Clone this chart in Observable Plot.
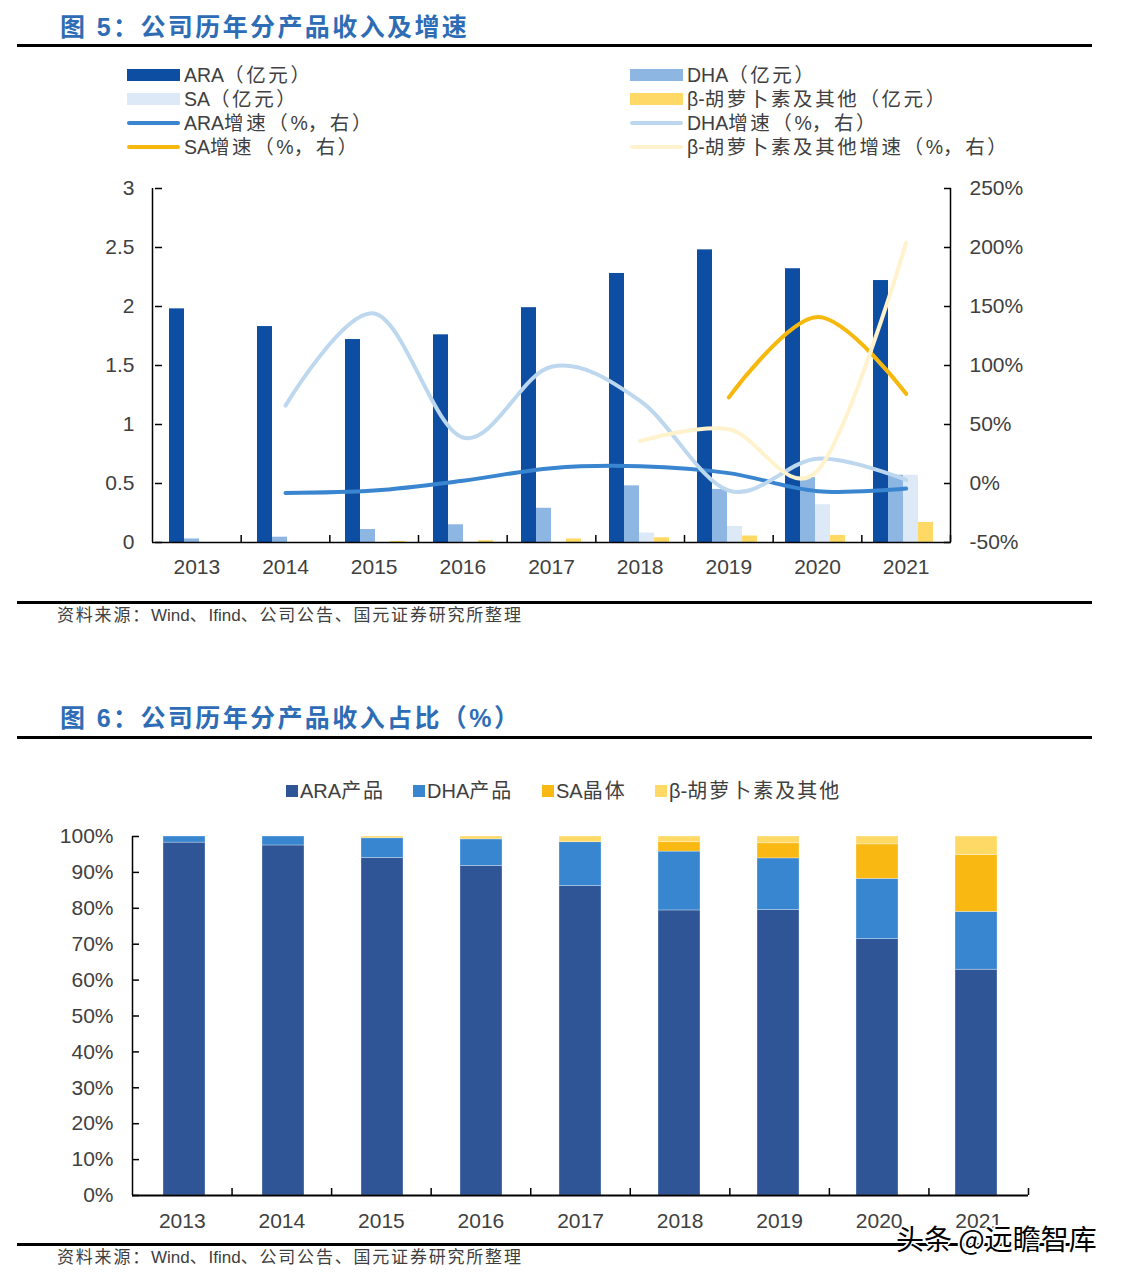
<!DOCTYPE html>
<html><head><meta charset="utf-8">
<script src="https://cdn.jsdelivr.net/npm/d3@7"></script>
<script src="https://cdn.jsdelivr.net/npm/@observablehq/plot@0.6"></script>
<style>
body{margin:0;background:#fff;}
#root{position:relative;width:1127px;height:1278px;overflow:hidden;font-family:"Liberation Sans",Arial,"Noto Sans CJK SC",sans-serif;}
.t{position:absolute;white-space:nowrap;line-height:1;transform:translateY(-50%);}
.title{left:60px;font-size:25px;font-weight:bold;color:#2e6db5;letter-spacing:2.4px;}
.rule{position:absolute;left:17px;width:1075px;background:#000;}
.caption{left:57px;font-size:17px;color:#404040;}
.lg{font-size:19.5px;color:#404040;}
.lg2{font-size:20px;color:#404040;}
.sw{position:absolute;}
</style></head>
<body><div id="root"></div>
<script>
// ---------- DATA ----------
const years = [2013, 2014, 2015, 2016, 2017, 2018, 2019, 2020, 2021];
const seriesNames = ["ARA", "DHA", "SA", "β-胡萝卜素及其他"];
// revenue (亿元)
const araRevenue  = [1.98, 1.83, 1.72, 1.76, 1.99, 2.28, 2.48, 2.32, 2.22];
const dhaRevenue  = [0.03, 0.045, 0.11, 0.15, 0.29, 0.48, 0.45, 0.55, 0.57];
const saRevenue   = [null, null, null, null, null, 0.08, 0.136, 0.32, 0.57];
const betaRevenue = [null, null, 0.009, 0.015, 0.03, 0.04, 0.055, 0.06, 0.17];
// growth (%, right axis)
const araGrowth  = [null, -8, -6, 2.3, 13, 14.6, 8.8, -6.5, -4.3];
const dhaGrowth  = [null, 66, 144, 39, 99, 70, -6, 21, 3];
const saGrowth   = [null, null, null, null, null, null, 73, 141, 76];
const betaGrowth = [null, null, null, null, null, 36, 46, 11, 204];
const leftTicks = [0, 0.5, 1, 1.5, 2, 2.5, 3];
const rightTicks = [-50, 0, 50, 100, 150, 200, 250];

// share (%) for figure 6
const shareNames = ["ARA产品", "DHA产品", "SA晶体", "β-胡萝卜素及其他"];
const araShare  = [98.3, 97.5, 94.0, 91.8, 86.2, 79.4, 79.5, 71.4, 62.9];
const dhaShare  = [1.7, 2.5, 5.5, 7.4, 12.2, 16.4, 14.4, 16.8, 16.1];
const saShare   = [0, 0, 0, 0, 0, 2.6, 4.2, 9.6, 15.8];
const betaShare = [0, 0, 0.5, 0.8, 1.6, 1.6, 1.9, 2.2, 5.2];
const shareTicks = [0, 10, 20, 30, 40, 50, 60, 70, 80, 90, 100];

// ---------- STYLE ----------
const barColors = ["#0d4ea3", "#8db6e2", "#dde9f6", "#ffd966"];
const lineColors = ["#3a85cf", "#bdd7ee", "#f7b80e", "#fff2cc"];
const shareColors = ["#2f5597", "#3886d0", "#f9b812", "#ffd966"];
const FONT = '"Liberation Sans", Arial, "Noto Sans CJK SC", sans-serif';
const root = document.getElementById("root");

function setRich(el, text, spacing) {
  el.textContent = "";
  const re = /([\u3000-\u303f\u4e00-\u9fff\uff00-\uffef]+)/g;
  let last = 0, m;
  while ((m = re.exec(text))) {
    if (m.index > last) el.appendChild(document.createTextNode(text.slice(last, m.index)));
    const s = document.createElement("span");
    s.style.letterSpacing = spacing + "px";
    s.textContent = m[1];
    el.appendChild(s);
    last = m.index + m[1].length;
  }
  if (last < text.length) el.appendChild(document.createTextNode(text.slice(last)));
}
function addText(cls, text, left, top, extra, spacing) {
  const d = document.createElement("div");
  d.className = "t " + cls;
  if (spacing) setRich(d, text, spacing); else d.textContent = text;
  d.style.top = top + "px";
  if (left != null) d.style.left = left + "px";
  if (extra) Object.assign(d.style, extra);
  root.appendChild(d);
  return d;
}
function addRule(top, h) {
  const d = document.createElement("div");
  d.className = "rule"; d.style.top = top + "px"; d.style.height = h + "px";
  root.appendChild(d);
}
function addSwatch(x, cy, w, h, color, round) {
  const d = document.createElement("div");
  d.className = "sw";
  Object.assign(d.style, {left: x + "px", top: (cy - h / 2) + "px", width: w + "px", height: h + "px", background: color, borderRadius: round ? (h / 2) + "px" : "0"});
  root.appendChild(d);
}
function place(svg, top) {
  svg.style.position = "absolute";
  svg.style.top = top + "px";
  svg.style.left = "0px";
  svg.style.maxWidth = "none";
  root.appendChild(svg);
}
const noText = () => "";

// ---------- FIGURE 5 ----------
addText("title", "图 5：公司历年分产品收入及增速", null, 27);
addRule(44, 3);

const legendRows = [75, 99, 123, 147];
const legend1 = [
  {col: 0, row: 0, kind: "bar", color: barColors[0], label: "ARA（亿元）"},
  {col: 1, row: 0, kind: "bar", color: barColors[1], label: "DHA（亿元）"},
  {col: 0, row: 1, kind: "bar", color: barColors[2], label: "SA（亿元）"},
  {col: 1, row: 1, kind: "bar", color: barColors[3], label: "β-胡萝卜素及其他（亿元）"},
  {col: 0, row: 2, kind: "line", color: lineColors[0], label: "ARA增速（%，右）"},
  {col: 1, row: 2, kind: "line", color: lineColors[1], label: "DHA增速（%，右）"},
  {col: 0, row: 3, kind: "line", color: lineColors[2], label: "SA增速（%，右）"},
  {col: 1, row: 3, kind: "line", color: lineColors[3], label: "β-胡萝卜素及其他增速（%，右）"}
];
const colX = [127, 630];
legend1.forEach(l => {
  const cy = legendRows[l.row];
  if (l.kind === "bar") addSwatch(colX[l.col], cy, 53, 12, l.color, false);
  else addSwatch(colX[l.col], cy, 53, 4, l.color, true);
  addText("lg", l.label, colX[l.col] + 57, cy + 1, null, 2.6);
});

const barData = [];
const revArrays = [araRevenue, dhaRevenue, saRevenue, betaRevenue];
years.forEach((y, i) => revArrays.forEach((arr, k) => {
  if (arr[i] != null) barData.push({year: y, series: seriesNames[k], value: arr[i]});
}));
const lineData = [];
const growthArrays = [araGrowth, dhaGrowth, saGrowth, betaGrowth];
growthArrays.forEach((arr, k) => years.forEach((y, i) => {
  if (arr[i] != null) lineData.push({year: y, series: seriesNames[k], value: arr[i]});
}));

const dims1 = {width: 1127, height: 420, marginLeft: 152, marginRight: 177, marginTop: 18, marginBottom: 48};
const baseStyle = {fontSize: "21px", fontFamily: FONT, color: "#404040", background: "transparent", overflow: "visible"};

const plotA = Plot.plot({
  ...dims1,
  style: baseStyle,
  facet: {data: barData, x: "year"},
  fx: {domain: years, padding: 0, axis: null, label: null},
  x: {domain: seriesNames, paddingInner: 0, paddingOuter: 0.9, axis: null, label: null},
  y: {domain: [0, 3], axis: null, label: null},
  color: {domain: seriesNames, range: barColors},
  marks: [
    Plot.barY(barData, {x: "series", y: "value", fill: "series", inset: 0}),
    Plot.axisY({ticks: leftTicks, tickSize: 0, tickPadding: 21, tickFormat: d => String(d), label: null}),
    Plot.axisY({ticks: leftTicks, tickSize: 7, dx: 7, tickFormat: noText, stroke: "#000", strokeWidth: 1.5, label: null})
  ]
});
place(plotA, 170);

const plotB = Plot.plot({
  ...dims1,
  style: baseStyle,
  x: {type: "linear", domain: [2012.5, 2021.5], axis: null, label: null},
  y: {domain: [-50, 250], axis: null, label: null},
  color: {domain: seriesNames, range: lineColors},
  marks: [
    Plot.line(lineData, {x: "year", y: "value", z: "series", stroke: "series", strokeWidth: 4, curve: "cardinal", strokeLinecap: "round"}),
    Plot.ruleY([-50], {stroke: "#000", strokeWidth: 1.5}),
    Plot.ruleX([2012.5, 2021.5], {stroke: "#000", strokeWidth: 1.5}),
    Plot.axisX({ticks: years.map(y => y + 0.5), tickSize: 7, dy: -7, tickFormat: noText, stroke: "#000", strokeWidth: 1.5, label: null}),
    Plot.axisX({ticks: years, tickSize: 0, tickPadding: 17, tickFormat: d => String(d), label: null}),
    Plot.axisY({anchor: "right", ticks: rightTicks, tickSize: 0, tickPadding: 19, tickFormat: d => d + "%", label: null}),
    Plot.axisY({anchor: "right", ticks: rightTicks, tickSize: 7, dx: -7, tickFormat: noText, stroke: "#000", strokeWidth: 1.5, label: null})
  ]
});
place(plotB, 170);

addRule(601, 3);
addText("caption", "资料来源：Wind、Ifind、公司公告、国元证券研究所整理", null, 615, null, 1.8);

// ---------- FIGURE 6 ----------
addText("title", "图 6：公司历年分产品收入占比（%）", null, 718);
addRule(736, 3);

const legend2X = [286, 413, 542, 655];
shareNames.forEach((n, k) => {
  addSwatch(legend2X[k], 791, 12, 12, shareColors[k], false);
  addText("lg2", n, legend2X[k] + 14, 791, null, 2);
});

const shareData = [];
const shareArrays = [araShare, dhaShare, saShare, betaShare];
years.forEach((y, i) => shareArrays.forEach((arr, k) => {
  if (arr[i] > 0) shareData.push({year: String(y), series: shareNames[k], value: arr[i]});
}));

const dims2 = {width: 1127, height: 420, marginLeft: 132, marginRight: 99, marginTop: 16, marginBottom: 45};
const plotC = Plot.plot({
  ...dims2,
  style: baseStyle,
  x: {domain: years.map(String), paddingInner: 0.58, paddingOuter: 0.29, axis: null, label: null},
  y: {domain: [0, 100], axis: null, label: null},
  color: {domain: shareNames, range: shareColors},
  marks: [
    Plot.barY(shareData, {x: "year", y: "value", fill: "series", order: shareNames, inset: 0, stroke: "#ffffff", strokeOpacity: 0.5, strokeWidth: 0.6}),
    Plot.axisY({ticks: shareTicks, tickSize: 0, tickPadding: 19, tickFormat: d => d + "%", label: null}),
    Plot.axisY({ticks: shareTicks, tickSize: 7, dx: 7, tickFormat: noText, stroke: "#000", strokeWidth: 1.5, label: null})
  ]
});
place(plotC, 820);

const plotD = Plot.plot({
  ...dims2,
  style: baseStyle,
  x: {type: "linear", domain: [2012.5, 2021.5], axis: null, label: null},
  y: {domain: [0, 100], axis: null, label: null},
  marks: [
    Plot.ruleY([0], {stroke: "#000", strokeWidth: 2}),
    Plot.ruleX([2012.5], {stroke: "#000", strokeWidth: 1.5}),
    Plot.axisX({ticks: years.map(y => y + 0.5), tickSize: 7, dy: -7, tickFormat: noText, stroke: "#000", strokeWidth: 1.5, label: null}),
    Plot.axisX({ticks: years, tickSize: 0, tickPadding: 18, tickFormat: d => String(d), label: null})
  ]
});
place(plotD, 820);

addRule(1243, 3);
addText("caption", "资料来源：Wind、Ifind、公司公告、国元证券研究所整理", null, 1257, null, 1.8);

// watermark (as in the reference, it sits over the last axis label)
addText("", "头条 @远瞻智库", 896, 1238, {fontSize: "28px", color: "#000", fontFamily: '"Noto Sans CJK SC", sans-serif',
  textShadow: "1px 1px 0 #fff, -1px -1px 0 #fff, 1px -1px 0 #fff, -1px 1px 0 #fff, 2px 0 0 #fff, -2px 0 0 #fff, 0 2px 0 #fff, 0 -2px 0 #fff"});
</script>
</body></html>
